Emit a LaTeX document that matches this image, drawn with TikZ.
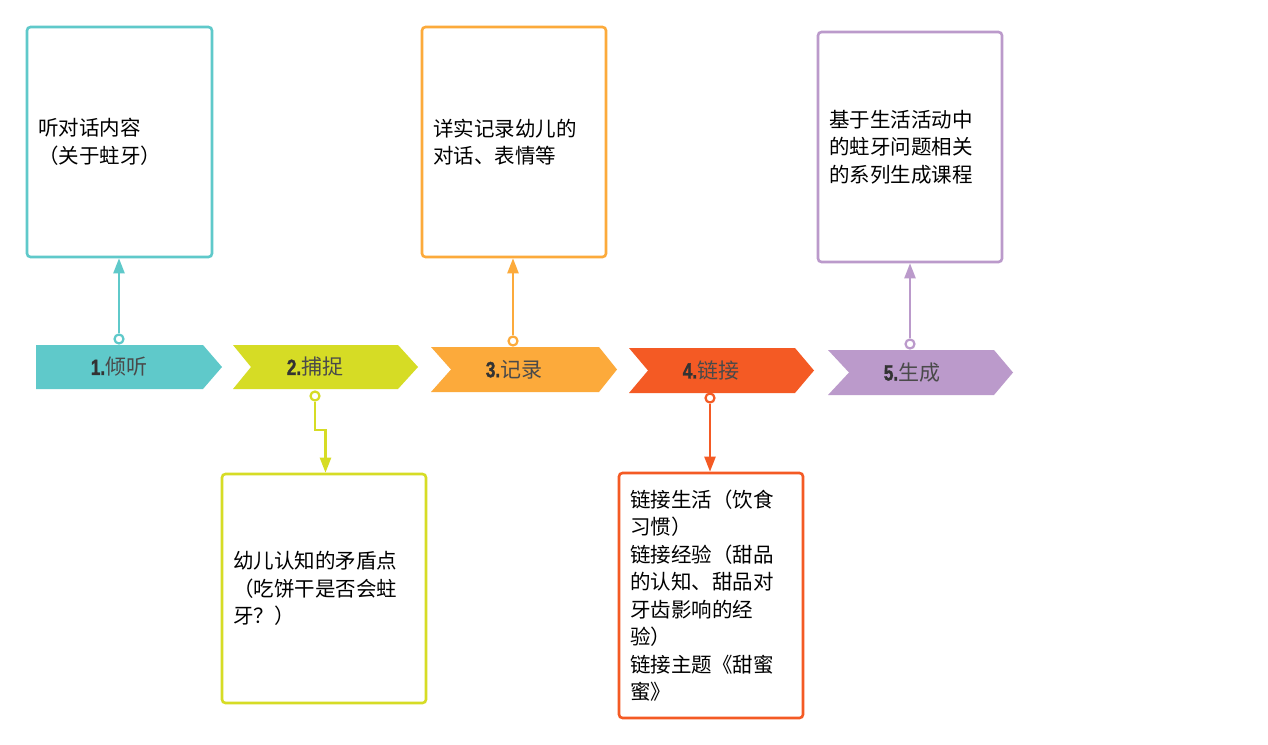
\documentclass[tikz,border=0pt]{standalone}
\usepackage{fontspec}
\setmainfont{Noto Sans CJK SC}
\newfontfamily\numf{Liberation Sans}[FakeStretch=0.78,FakeBold=1.5]
\usetikzlibrary{arrows.meta}
\definecolor{tealc}{HTML}{5FC9CA}
\definecolor{limec}{HTML}{D6DC25}
\definecolor{orangec}{HTML}{FCAA3B}
\definecolor{redc}{HTML}{F45A24}
\definecolor{purplec}{HTML}{BB9ACB}
\definecolor{labc}{HTML}{4A4A4A}
\tikzset{
  box/.style={draw=#1, line width=2.6pt, rounded corners=3.5pt, fill=white,
    text width=162pt, inner xsep=11pt, align=left,
    font=\fontsize{20.5}{27.5}\selectfont, text=black},
  dot/.style={circle, draw=#1, fill=white, line width=2.2pt, minimum size=9pt, inner sep=0pt},
  conn/.style={draw=#1, line width=2.3pt, -{Triangle[width=11pt,length=15pt]}},
  chevlabel/.style={font=\fontsize{21}{24}\selectfont, text=labc, inner sep=0pt},
}
\newcommand{\stepnum}[1]{{\numf\bfseries\fontsize{22}{24}\selectfont\color{black!80}#1}}
\begin{document}
\begin{tikzpicture}[x=1pt,y=-1pt]
\useasboundingbox[fill=white] (0,0) rectangle (1268,744);
% chevrons
\fill[tealc] (36,345) -- (203,345) -- (222,367) -- (203,389) -- (36,389) -- cycle;
\fill[limec] (233,345) -- (398,345) -- (418,367) -- (398,389) -- (233,389) -- (251,367) -- cycle;
\fill[orangec] (431,347) -- (599,347) -- (617,369.5) -- (599,392) -- (431,392) -- (451,369.5) -- cycle;
\fill[redc] (629,348) -- (795,348) -- (814,370.5) -- (795,393) -- (629,393) -- (648,370.5) -- cycle;
\fill[purplec] (828,350) -- (994,350) -- (1013,372.5) -- (994,395) -- (828,395) -- (849,372.5) -- cycle;
\node[chevlabel] (c1) at (119,367) {\stepnum{1.}倾听};
\node[chevlabel] (c2) at (315,367) {\stepnum{2.}捕捉};
\node[chevlabel] (c3) at (514,369.5) {\stepnum{3.}记录};
\node[chevlabel] (c4) at (711,370.5) {\stepnum{4.}链接};
\node[chevlabel] (c5) at (912,372.5) {\stepnum{5.}生成};
% boxes
\node[box=tealc, minimum height=230pt, text width=163pt] (b1) at (119.5,142) {听对话内容\\（关于蛀牙）};
\node[box=limec, minimum height=229pt, text width=182pt] (b2) at (324,588.5) {幼儿认知的矛盾点\\（吃饼干是否会蛀\\牙？）};
\node[box=orangec, minimum height=230pt] (b3) at (514,142) {详实记录幼儿的\\对话、表情等};
\node[box=redc, minimum height=245pt] (b4) at (711,595.5) {链接生活（饮食\\习惯）\\链接经验（甜品\\的认知、甜品对\\牙齿影响的经\\验）\\链接主题《甜蜜\\蜜》};
\node[box=purplec, minimum height=230pt] (b5) at (910,147) {基于生活活动中\\的蛀牙问题相关\\的系列生成课程};
% connector dots
\node[dot=tealc] (o1) at (119,339) {};
\node[dot=limec] (o2) at (315,396) {};
\node[dot=orangec] (o3) at (513,341) {};
\node[dot=redc] (o4) at (710,398) {};
\node[dot=purplec] (o5) at (910,344) {};
\coordinate (j2) at (325.5,430);
% connectors
\draw[conn=tealc] (o1) -- (o1 |- b1.south);
\draw[conn=limec] (o2) |- (j2) -- (j2 |- b2.north);
\draw[conn=orangec] (o3) -- (o3 |- b3.south);
\draw[conn=redc] (o4) -- (o4 |- b4.north);
\draw[conn=purplec] (o5) -- (o5 |- b5.south);
\end{tikzpicture}
\end{document}
